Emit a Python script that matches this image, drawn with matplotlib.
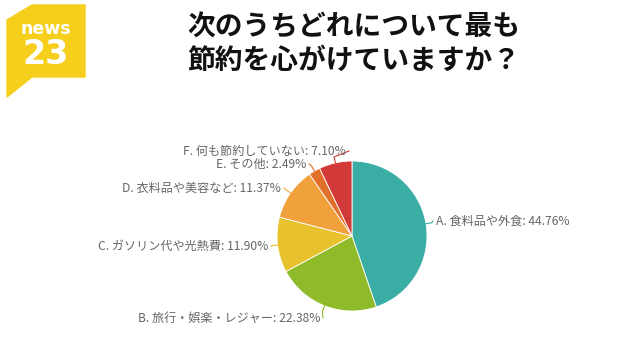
import matplotlib.pyplot as plt
import numpy as np
from matplotlib.patches import Polygon

plt.rcParams['font.family'] = ['Noto Sans CJK JP', 'DejaVu Sans']

labels = ['A. 食料品や外食', 'B. 旅行・娯楽・レジャー', 'C. ガソリン代や光熱費',
          'D. 衣料品や美容など', 'E. その他', 'F. 何も節約していない']
shares = [44.76, 22.38, 11.90, 11.37, 2.49, 7.10]
colors = ['#3aada5', '#8fba2a', '#e8c22c', '#f0a13b', '#e0702a', '#d13a38']

# text anchor (pixel coords, y from top) and alignment for each label
label_pos = [(436, 221, 'left'), (320, 318, 'right'), (268, 246, 'right'),
             (281, 188, 'right'), (306, 164, 'right'), (346, 151, 'right')]

fig = plt.figure(figsize=(6.4, 3.6), dpi=100)
ax = fig.add_axes([0, 0, 1, 1])

cx, cy, r = 352, 360 - 236, 75
wedges, _ = ax.pie(shares, colors=colors, startangle=90, counterclock=False,
                   center=(cx, cy), radius=r, frame=True,
                   wedgeprops=dict(linewidth=0.6, edgecolor='white'))
ax.set_xlim(0, 640)
ax.set_ylim(0, 360)
ax.set_aspect('equal')
ax.axis('off')

for w, lab, v, (tx, ty, ha), c in zip(wedges, labels, shares, label_pos, colors):
    ang = np.deg2rad((w.theta1 + w.theta2) / 2)
    px, py = cx + r * np.cos(ang), cy + r * np.sin(ang)
    ty = 360 - ty
    end_x = tx - 3 if ha == 'left' else tx + 3
    ax.plot([px, px + 6 * np.cos(ang), end_x], [py, py + 6 * np.sin(ang), ty],
            color=c, lw=0.8)
    ax.text(tx, ty, f'{lab}: {v:.2f}%', ha=ha, va='center', fontsize=8.7,
            color='#666666')

# title
ax.text(187, 360 - 14, '次のうちどれについて最も\n節約を心がけていますか？',
        ha='left', va='top', fontsize=20, fontweight='bold', color='#111111',
        linespacing=1.2)

# logo
logo = Polygon([(7, 360 - 20), (32, 360 - 5), (85, 360 - 5), (85, 360 - 77),
                (32, 360 - 77), (7, 360 - 97)], closed=True, color='#f5cf1c')
ax.add_patch(logo)
ax.text(46, 360 - 29, 'news', ha='center', va='center', fontsize=12.5,
        fontweight='bold', color='white', family='DejaVu Sans')
ax.text(46, 360 - 55, '23', ha='center', va='center', fontsize=24,
        fontweight='bold', color='white', family='DejaVu Sans')

fig.savefig('out.png', dpi=100)
